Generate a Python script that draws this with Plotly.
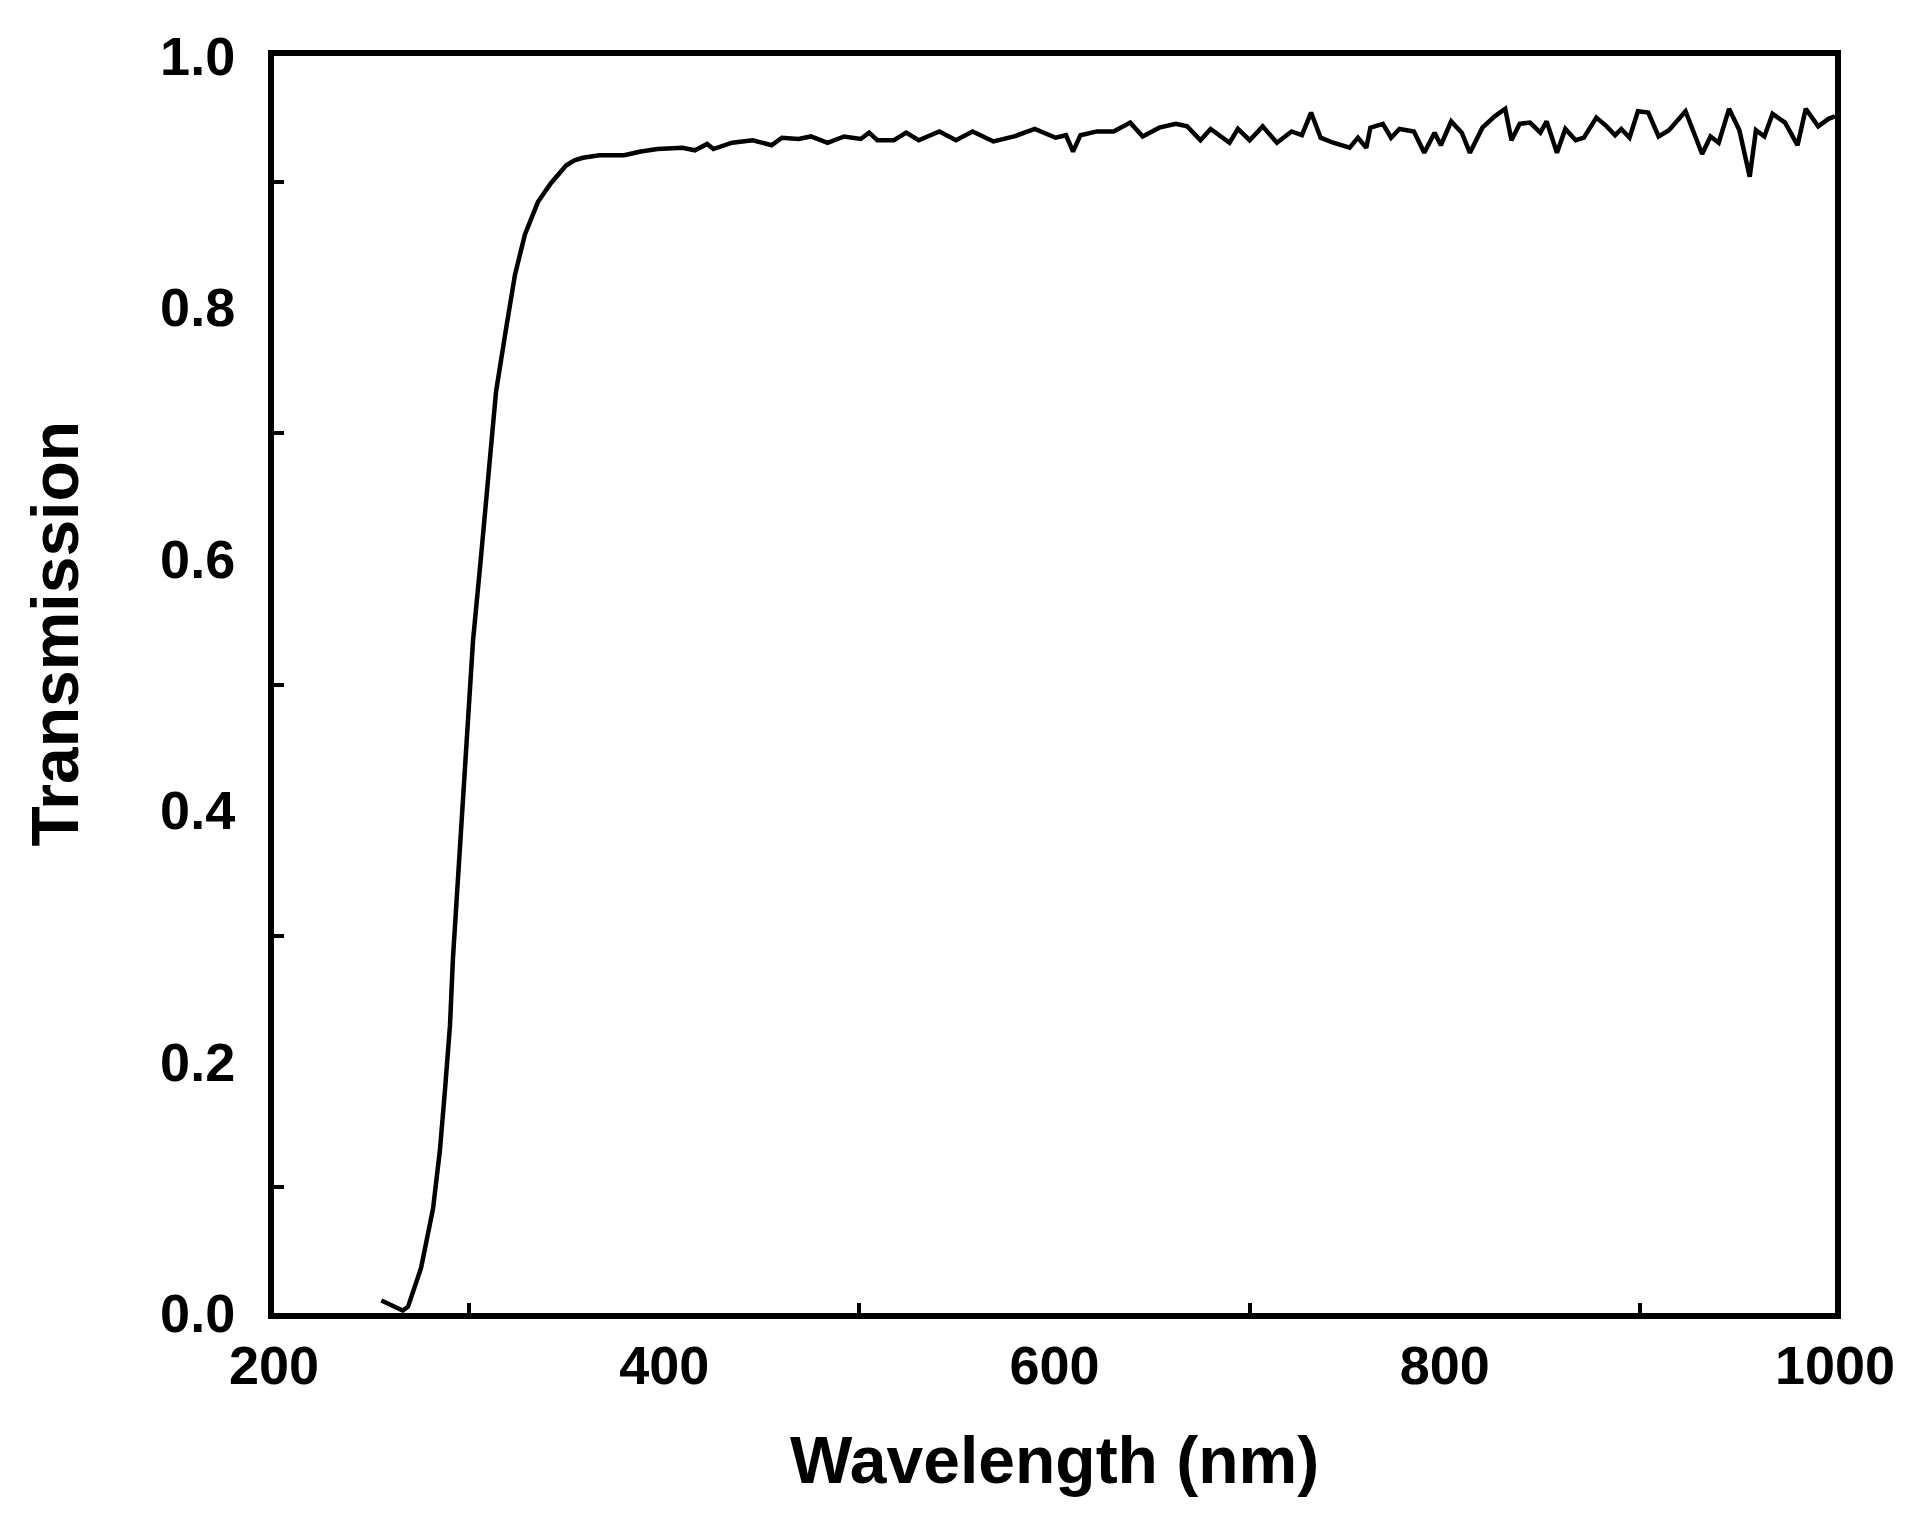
import plotly.graph_objects as go

# Wavelength (nm) and transmission values
wavelength = [
    255.0, 260.0, 266.0, 268.7, 275.4, 281.5, 285.0, 287.6, 290.2, 291.7,
    295.8, 299.4, 302.0, 306.0, 309.7, 313.8, 318.4, 323.5, 328.6, 335.3,
    342.0, 345.5, 349.8, 354.0, 358.3, 366.8, 379.5, 388.0, 396.5, 409.3,
    415.7, 422.0, 425.2, 434.8, 445.4, 455.0, 460.3, 468.8, 475.2, 483.7,
    492.2, 500.7, 505.0, 509.2, 517.7, 524.0, 530.4, 541.0, 549.5, 558.0,
    568.7, 579.3, 589.9, 600.6, 605.9, 609.5, 613.3, 621.8, 630.3, 638.8,
    645.2, 653.7, 662.2, 668.0, 674.8, 680.0, 689.7, 694.0, 700.0, 706.7,
    714.0, 721.5, 726.8, 731.5, 736.4, 742.8, 751.3, 755.5, 759.8, 761.9,
    768.3, 772.5, 776.8, 784.2, 789.5, 794.8, 798.0, 803.3, 808.7, 812.9,
    819.3, 825.6, 831.0, 834.2, 838.4, 843.7, 849.0, 852.2, 857.5, 861.8,
    867.1, 871.3, 877.7, 883.0, 887.3, 890.5, 894.7, 899.0, 904.3, 909.6,
    914.9, 923.4, 931.9, 936.2, 940.4, 945.7, 951.0, 956.3, 959.5, 963.8,
    968.0, 974.4, 980.8, 985.0, 991.4, 996.7, 1000.0,
]
transmission = [
    0.010, 0.006, 0.002, 0.005, 0.036, 0.083, 0.129, 0.177, 0.229, 0.282,
    0.388, 0.468, 0.535, 0.600, 0.667, 0.733, 0.778, 0.826, 0.858, 0.884,
    0.899, 0.905, 0.913, 0.917, 0.919, 0.921, 0.921, 0.924, 0.926, 0.927,
    0.925, 0.930, 0.926, 0.931, 0.933, 0.929, 0.935, 0.934, 0.936, 0.931,
    0.936, 0.934, 0.939, 0.933, 0.933, 0.939, 0.933, 0.940, 0.933, 0.940,
    0.932, 0.936, 0.942, 0.935, 0.937, 0.924, 0.937, 0.940, 0.940, 0.947,
    0.936, 0.943, 0.946, 0.944, 0.933, 0.942, 0.931, 0.942, 0.933, 0.944,
    0.931, 0.940, 0.937, 0.955, 0.935, 0.931, 0.927, 0.935, 0.927, 0.943,
    0.946, 0.935, 0.942, 0.940, 0.923, 0.939, 0.929, 0.948, 0.939, 0.923,
    0.943, 0.952, 0.958, 0.933, 0.946, 0.947, 0.939, 0.948, 0.923, 0.942,
    0.933, 0.935, 0.951, 0.944, 0.937, 0.942, 0.935, 0.956, 0.955, 0.936,
    0.941, 0.956, 0.922, 0.936, 0.931, 0.958, 0.941, 0.904, 0.941, 0.936,
    0.954, 0.947, 0.929, 0.958, 0.944, 0.950, 0.952,
]

x_tick_vals = [200, 400, 600, 800, 1000]
x_tick_text = ["200", "400", "600", "800", "1000"]
x_minor_vals = [300, 500, 700, 900]
y_tick_vals = [0.0, 0.2, 0.4, 0.6, 0.8, 1.0]
y_tick_text = ["0.0", "0.2", "0.4", "0.6", "0.8", "1.0"]
y_minor_vals = [0.1, 0.3, 0.5, 0.7, 0.9]

FONT = "Liberation Sans, Arial, sans-serif"

fig = go.Figure()
fig.add_trace(go.Scatter(
    x=wavelength, y=transmission, mode="lines",
    line=dict(color="black", width=4.5),
    showlegend=False,
))

axis_common = dict(
    showline=True, linecolor="black", linewidth=6, mirror=True,
    showgrid=False, zeroline=False,
    ticks="",
    tickfont=dict(family=FONT, size=54, color="black", weight="bold"),
)

fig.update_xaxes(
    range=[200, 1000],
    tickmode="array", tickvals=x_tick_vals, ticktext=x_tick_text,
    ticklabelstandoff=0,
    minor=dict(tickmode="array", tickvals=x_minor_vals, ticks="inside",
               ticklen=10, tickwidth=3.5, tickcolor="black", showgrid=False),
    **axis_common,
)
fig.update_yaxes(
    range=[0, 1.0],
    tickmode="array", tickvals=y_tick_vals, ticktext=y_tick_text,
    ticklabelstandoff=22,
    minor=dict(tickmode="array", tickvals=y_minor_vals, ticks="inside",
               ticklen=10, tickwidth=3.5, tickcolor="black", showgrid=False),
    **axis_common,
)

title_font = dict(family=FONT, size=66, color="black", weight="bold")
fig.add_annotation(
    text="Wavelength (nm)", xref="paper", yref="paper",
    x=0.5, y=-0.117, xanchor="center", yanchor="middle",
    showarrow=False, font=title_font,
)
fig.add_annotation(
    text="Transmission", xref="paper", yref="paper",
    x=-0.140, y=0.541, xanchor="center", yanchor="middle",
    textangle=-90, showarrow=False, font=title_font,
)

fig.update_layout(
    width=1910, height=1522,
    margin=dict(l=266, r=83, t=48, b=217),
    paper_bgcolor="white", plot_bgcolor="white",
)

fig.write_html("out.html")
